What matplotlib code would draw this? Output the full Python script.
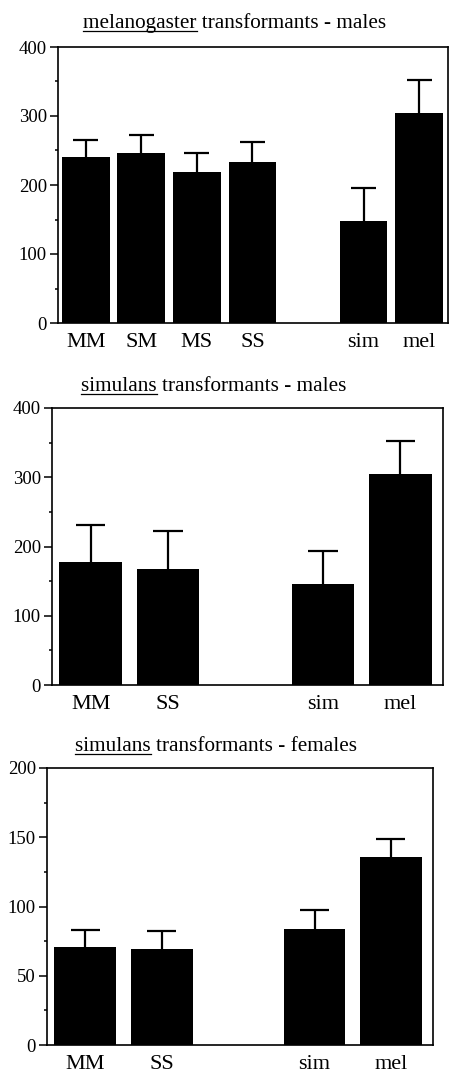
import matplotlib
matplotlib.use("Agg")
import matplotlib.pyplot as plt
from matplotlib.lines import Line2D

plt.rcParams['font.family'] = ['Liberation Serif', 'DejaVu Serif']

# ---- data ----
p1_labels = ["MM", "SM", "MS", "SS", "sim", "mel"]
p1_pos = [0, 1, 2, 3, 5, 6]
p1_vals = [240, 247, 219, 234, 148, 304]
p1_err = [25, 26, 28, 29, 48, 48]

p2_labels = ["MM", "SS", "sim", "mel"]
p2_pos = [0, 1, 3, 4]
p2_vals = [178, 168, 146, 304]
p2_err = [53, 55, 48, 48]

p3_labels = ["MM", "SS", "sim", "mel"]
p3_pos = [0, 1, 3, 4]
p3_vals = [71, 69, 84, 136]
p3_err = [12, 13, 13.5, 13]

titles = [("melanogaster", " transformants - males"),
          ("simulans", " transformants - males"),
          ("simulans", " transformants - females")]

W, H = 452, 1073
fig = plt.figure(figsize=(W / 100, H / 100), dpi=100)

axes_px = [  # left, top, right, bottom in pixels
    (58, 47, 448, 323),
    (52, 408, 443, 685),
    (47, 768, 433, 1045),
]
title_px = [(235, 28), (214, 391), (216, 751)]

panels = [
    (p1_pos, p1_vals, p1_err, p1_labels, 400, 100, 50, (-0.5, 6.52), 0.86, 0.225),
    (p2_pos, p2_vals, p2_err, p2_labels, 400, 100, 50, (-0.5, 4.55), 0.81, 0.19),
    (p3_pos, p3_vals, p3_err, p3_labels, 200, 50, 25, (-0.5, 4.55), 0.81, 0.19),
]

for (l, t, r, b), (pos, vals, err, labs, ymax, maj, mnr, xl, bw, cap) in zip(axes_px, panels):
    ax = fig.add_axes([l / W, 1 - b / H, (r - l) / W, (b - t) / H])
    ax.bar(pos, vals, width=bw, color='black', zorder=2)
    tops = [v + e for v, e in zip(vals, err)]
    ax.vlines(pos, vals, tops, color='black', linewidth=1.6, zorder=1)
    ax.hlines(tops, [p - cap for p in pos], [p + cap for p in pos],
              color='black', linewidth=1.6, zorder=1)
    ax.set_ylim(0, ymax)
    ax.set_xlim(*xl)
    ax.set_yticks(list(range(0, ymax + 1, maj)))
    ax.set_yticks(list(range(0, ymax + 1, mnr)), minor=True)
    ax.tick_params(axis='y', which='major', direction='out', length=6, width=1.1,
                   labelsize=13.5, pad=2)
    ax.tick_params(axis='y', which='minor', direction='out', length=2.5, width=1.1)
    ax.set_xticks(pos)
    ax.set_xticklabels(labs, fontsize=16)
    ax.tick_params(axis='x', length=0, pad=7)
    for s in ax.spines.values():
        s.set_linewidth(1.2)

fig.canvas.draw()
renderer = fig.canvas.get_renderer()
TFS = 15.3
for (w1, rest), (cx, by) in zip(titles, title_px):
    t = fig.text(cx / W, 1 - by / H, w1 + rest, ha='center', va='baseline', fontsize=TFS)
    bb = t.get_window_extent(renderer)
    tmp = fig.text(0, 0, w1, fontsize=TFS)
    w = tmp.get_window_extent(renderer).width
    tmp.remove()
    yline = (1 - by / H) - 3 / H
    fig.add_artist(Line2D([bb.x0 / W, (bb.x0 + w) / W], [yline, yline],
                          transform=fig.transFigure, color='black', linewidth=0.9))

fig.savefig("out.png", dpi=100)
